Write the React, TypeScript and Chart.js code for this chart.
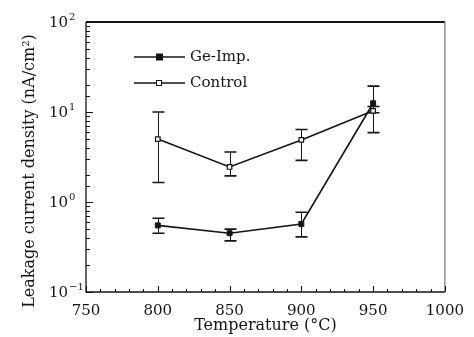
import React, { useEffect, useRef } from 'react';
import { Chart, registerables } from 'chart.js';

Chart.register(...registerables);

const temperatures = [800, 850, 900, 950];
const geImp = [0.55, 0.45, 0.57, 12.5];
const geLow = [0.45, 0.37, 0.41, 5.9];
const geHigh = [0.66, 0.5, 0.77, 19.4];
const control = [5.0, 2.45, 4.9, 10.3];
const controlLow = [1.65, 1.95, 2.9, 9.8];
const controlHigh = [10, 3.6, 6.4, 11.5];
const seriesNames = ['Ge-Imp.', 'Control'];
const yDecades = [-1, 0, 1, 2];
const xTitle = 'Temperature (°C)';
const yTitle = 'Leakage current density (nA/cm²)';

const INK = '#151515';
const FONT = "'DejaVu Serif', serif";

const errorBars = {
  id: 'errorBars',
  beforeDatasetsDraw(chart: any) {
    const { ctx, scales } = chart;
    const xs = scales.x;
    const ys = scales.y;
    ctx.save();
    ctx.strokeStyle = INK;
    const drawErr = (lo: number[], hi: number[]) => {
      temperatures.forEach((t, i) => {
        const x = Math.round(xs.getPixelForValue(t)) + 0.5;
        const y1 = ys.getPixelForValue(lo[i]);
        const y2 = ys.getPixelForValue(hi[i]);
        ctx.lineWidth = 1;
        ctx.beginPath();
        ctx.moveTo(x, y1);
        ctx.lineTo(x, y2);
        ctx.stroke();
        ctx.lineWidth = 1.6;
        ctx.beginPath();
        ctx.moveTo(x - 6, y1);
        ctx.lineTo(x + 6, y1);
        ctx.moveTo(x - 6, y2);
        ctx.lineTo(x + 6, y2);
        ctx.stroke();
      });
    };
    drawErr(geLow, geHigh);
    drawErr(controlLow, controlHigh);
    ctx.restore();
  },
};

const overlay = {
  id: 'overlay',
  afterDatasetsDraw(chart: any) {
    const { ctx, chartArea: a, scales } = chart;
    const xs = scales.x;
    const ys = scales.y;
    ctx.save();
    ctx.strokeStyle = INK;
    ctx.fillStyle = INK;

    // frame
    ctx.lineWidth = 1.3;
    ctx.beginPath();
    ctx.moveTo(a.left, a.top);
    ctx.lineTo(a.left, a.bottom);
    ctx.lineTo(a.right, a.bottom);
    ctx.stroke();
    ctx.lineWidth = 2;
    ctx.beginPath();
    ctx.moveTo(a.left, a.top);
    ctx.lineTo(a.right, a.top);
    ctx.stroke();
    ctx.lineWidth = 1;
    ctx.strokeStyle = '#555';
    ctx.beginPath();
    ctx.moveTo(a.right, a.top);
    ctx.lineTo(a.right, a.bottom);
    ctx.stroke();
    ctx.strokeStyle = INK;

    // inward ticks
    ctx.lineWidth = 1;
    ctx.beginPath();
    ys.ticks.forEach((tk: any) => {
      const v = tk.value;
      const lg = Math.log10(v);
      const major = Math.abs(lg - Math.round(lg)) < 1e-6;
      const y = Math.round(ys.getPixelForValue(v)) + 0.5;
      ctx.moveTo(a.left, y);
      ctx.lineTo(a.left + (major ? 7 : 4), y);
    });
    xs.ticks.forEach((tk: any) => {
      const v = tk.value;
      const major = v % 50 === 0;
      const x = Math.round(xs.getPixelForValue(v)) + 0.5;
      ctx.moveTo(x, a.bottom);
      ctx.lineTo(x, a.bottom - (major ? 6 : 3));
    });
    ctx.stroke();

    // y tick labels 10^n
    ctx.textBaseline = 'middle';
    yDecades.forEach((d) => {
      const y = ys.getPixelForValue(Math.pow(10, d));
      ctx.font = `15px ${FONT}`;
      ctx.textAlign = 'right';
      ctx.fillText('10', 68, y + 1);
      ctx.font = `10px ${FONT}`;
      ctx.textAlign = 'left';
      ctx.fillText(String(d).replace('-', '\u2212'), 69, y - 5);
    });

    // y title
    ctx.save();
    ctx.translate(30, 171);
    ctx.rotate(-Math.PI / 2);
    ctx.font = `16px ${FONT}`;
    ctx.textAlign = 'center';
    ctx.textBaseline = 'middle';
    ctx.fillText(yTitle, 0, 0);
    ctx.restore();

    // legend
    const legendY = [57, 83];
    seriesNames.forEach((name, i) => {
      const y = legendY[i];
      ctx.lineWidth = 1.5;
      ctx.beginPath();
      ctx.moveTo(134, y);
      ctx.lineTo(185, y);
      ctx.stroke();
      ctx.lineWidth = 1;
      if (i === 0) {
        ctx.fillRect(156, y - 3.5, 7, 7);
      } else {
        ctx.fillStyle = '#fff';
        ctx.fillRect(156, y - 3, 6, 6);
        ctx.fillStyle = INK;
        ctx.strokeRect(156.5, y - 2.5, 5, 5);
      }
      ctx.font = `15px ${FONT}`;
      ctx.textAlign = 'left';
      ctx.textBaseline = 'middle';
      ctx.fillText(name, 190, y);
    });
    ctx.restore();
  },
};

export default function App() {
  const ref = useRef<HTMLCanvasElement | null>(null);
  useEffect(() => {
    if (!ref.current) return;
    const chart = new Chart(ref.current, {
      type: 'line',
      data: {
        datasets: [
          {
            label: seriesNames[0],
            data: temperatures.map((t, i) => ({ x: t, y: geImp[i] })),
            borderColor: INK,
            backgroundColor: INK,
            borderWidth: 1.6,
            pointStyle: 'rect',
            pointRadius: 3.5,
            pointBackgroundColor: INK,
            pointBorderColor: INK,
            pointBorderWidth: 1,
            tension: 0,
          },
          {
            label: seriesNames[1],
            data: temperatures.map((t, i) => ({ x: t, y: control[i] })),
            borderColor: INK,
            backgroundColor: '#fff',
            borderWidth: 1.6,
            pointStyle: 'rect',
            pointRadius: 3.2,
            pointBackgroundColor: '#fff',
            pointBorderColor: INK,
            pointBorderWidth: 1.2,
            tension: 0,
          },
        ],
      },
      options: {
        animation: false,
        responsive: false,
        devicePixelRatio: 1,
        layout: { padding: { left: 0, top: 22, right: 23, bottom: 0 } },
        plugins: { legend: { display: false }, tooltip: { enabled: false } },
        scales: {
          x: {
            type: 'linear',
            min: 750,
            max: 1000,
            grid: { display: false, drawTicks: false },
            border: { display: false },
            ticks: {
              stepSize: 10,
              autoSkip: false,
              maxRotation: 0,
              padding: 10,
              color: INK,
              font: { family: FONT, size: 15 },
              callback: (v: any) => (Number(v) % 50 === 0 ? String(v) : ''),
            },
            title: {
              display: true,
              text: xTitle,
              color: INK,
              font: { family: FONT, size: 16 },
              padding: { top: 0, bottom: 2 },
            },
            afterFit: (s: any) => {
              s.height = 45;
            },
          },
          y: {
            type: 'logarithmic',
            min: 0.1,
            max: 100,
            grid: { display: false, drawTicks: false },
            border: { display: false },
            ticks: { display: false },
            afterFit: (s: any) => {
              s.width = 86;
            },
          },
        },
      } as any,
      plugins: [errorBars, overlay],
    });
    return () => chart.destroy();
  }, []);
  return (
    <div style={{ position: 'fixed', left: 0, top: 0, width: 474, height: 337, background: '#fff' }}>
      <canvas ref={ref} width={474} height={337} />
    </div>
  );
}
